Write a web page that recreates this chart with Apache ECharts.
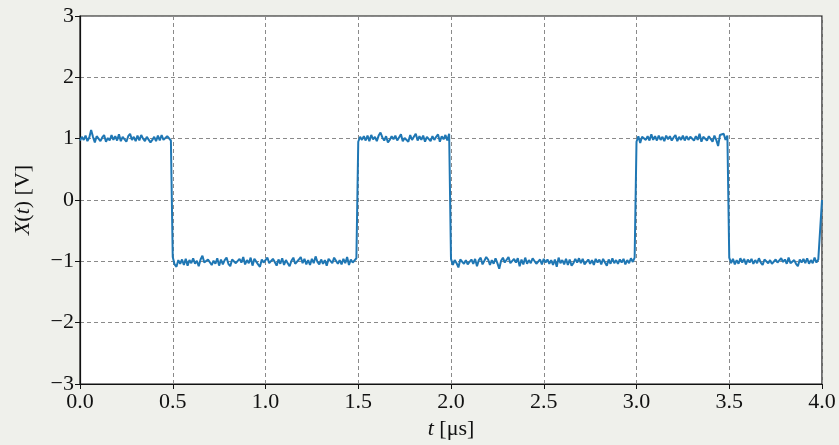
<!DOCTYPE html>
<html>
<head>
<meta charset="utf-8">
<script src="https://cdn.jsdelivr.net/npm/echarts@6/dist/echarts.min.js"></script>
<style>
  html, body { margin: 0; padding: 0; background: #eff0eb; }
  #chart { width: 839px; height: 445px; }
</style>
</head>
<body>
<div id="chart"></div>
<script>
// Each segment = start time, nominal level (V), deviations in hundredths of a volt.
const DT = 0.01;

const high1 = [
  -3, 3,-2, 5,-4, 2,14, 3,-6, 4,
   5,-4, 2, 6,-5, 1,-3, 6,-2, 4,
  -3, 7,-4, 3, 1,-5, 4, 8,-2, 3,
  -4, 5,-3, 6, 0,-4, 3, 5,-6,-2,
   3,-4, 5,-3, 6,-2,-5, 4, 7,-3];
const low1 = [
   7,-5,-9, 2,-4, 3,-6, 4,-7, 2,
  -3, 5,-4, 1,-8, 3, 9,-2,-5, 3,
   4,-6, 1,-4, 5,-7, 3,-5, 2, 6,
  -4,-8, 3, 5,-3,-6, 4,-2, 7,-5,
   2,-3, 6,-7, 4, 1,-5,-9, 3,-2,
  -4, 6,-3,-6, 4,-1,-7, 3,-4, 5,
  -6, 2,-3,-8, 1, 6,-4,-2, 3, 7,
  -3, 4,-5, 2,-6, 4,-3, 8,-1,-5,
   3,-4, 2,-7, 4, 5,-3, 6, 9,-4,
   2,-5, 4,-3, 7,-6, 3,-2,-4, 5];
const high2 = [
  -5, 3,-2, 4,-3, 5,-4, 6,-1, 3,
  -4, 5,10, 2,-3, 4,-6,-2, 4,-1,
   5,-3, 2, 7,-4, 1, 4,-5, 6,-2,
   3, 8,-3, 4,-2, 5,-5, 3, 6,-4,
   4,-2, 3, 7,-5, 4,-1, 6,-3, 8];
const low2 = [
   4,-6, 2,-3,-10, 3, 5,-4, 2,-5,
  -7, 3,-4, 4,-8, 2, 6,-5, 1, 7,
   3,-6, 2,-4, 5,-3,-12, 1, 6,-2,
  -4, 7,-3,-6, 4,-2, 5,-8, 3,-5,
   6,-4, 2,-3, 5, 8,-4,-6, 3,-5,
   4,-2, 3,-4, 2,-6, 3,-9, 6,-3,
   2,-5, 4,-6, 3,-7,-3, 4,-2, 5,
  -3, 4,-5,-8, 3,-4, 2,-6, 4,-2,
   3,-5, 4,-2,-7, 3,-4, 5,-3, 2,
  -4, 3,-2, 4,-5, 2,-3, 5,-1, 6];
const high3 = [
  -5, 4,-7, 3, 6,-2, 4,-3, 7,-2,
   4,-3, 5,-2, 3,-4, 5,-1, 4,-3,
   2, 6,-4, 3,-2, 5,-3, 4,-2, 3,
   6,-3, 4,-2, 8,-5, 3, 6,-3, 4,
   7,-5, 5,-2,-12, 6, 3, 8,-2, 5];
const low3 = [
   6,-3, 4,-5, 2,-4, 5,-2, 4,-5,
   3,-2, 4,-4, 2,-3, 5,-2,-6, 3,
   4,-3, 2,-4,-7, 3,-2,-5, 5,-1,
   3,-4, 6,-3,-5, 2,-4,-8, 3,-2,
   4,-3, 5,-4, 2,-3, 6,-2, 3, 5];

const segStart = [0.0, 0.5, 1.5, 2.0, 3.0, 3.5];
const segLevel = [1, -1, 1, -1, 1, -1];
const segNoise = [high1, low1, high2, low2, high3, low3];
// last sample sits mid-way up the next rising edge
const endPoint = [4.0, 0.0];

const points = [];
segNoise.forEach((arr, s) => {
  arr.forEach((d, i) => {
    points.push([+(segStart[s] + i * DT).toFixed(2), segLevel[s] + d / 100]);
  });
});
points.push(endPoint);

const FONT = "'Liberation Serif', 'DejaVu Serif', serif";
const gridLine = { show: true, lineStyle: { color: "#8a8a8a", type: [4, 3], width: 1 } };
const axisLine = { show: true, onZero: false, lineStyle: { color: "#111", width: 1.2 } };
const axisTick = { show: true, inside: false, length: 5, lineStyle: { color: "#111", width: 1 } };

const chart = echarts.init(document.getElementById("chart"), null, { renderer: "canvas" });
chart.setOption({
  backgroundColor: "#eff0eb",
  animation: false,
  grid: { left: 80, right: 17, top: 16, bottom: 60, show: true, backgroundColor: "#fff", borderColor: "#111", borderWidth: 1.2 },
  xAxis: {
    type: "value", min: 0, max: 4, interval: 0.5,
    axisLine, axisTick, splitLine: gridLine,
    axisLabel: { color: "#111", fontFamily: FONT, fontSize: 22, margin: 7,
      formatter: (v) => v.toFixed(1) },
    name: "{i|t} [μs]", nameLocation: "middle", nameGap: 34,
    nameTextStyle: { color: "#111", fontFamily: FONT, fontSize: 22,
      rich: { i: { fontStyle: "italic", fontFamily: FONT, fontSize: 22, color: "#111" } } },
  },
  yAxis: {
    type: "value", min: -3, max: 3, interval: 1,
    axisLine, axisTick, splitLine: gridLine,
    axisLabel: { color: "#111", fontFamily: FONT, fontSize: 22, margin: 6,
      formatter: (v) => (v < 0 ? "\u2212" + Math.abs(v) : String(v)) },
    name: "{i|X}({i|t}) [V]", nameLocation: "middle", nameGap: 46,
    nameTextStyle: { color: "#111", fontFamily: FONT, fontSize: 22,
      rich: { i: { fontStyle: "italic", fontFamily: FONT, fontSize: 22, color: "#111" } } },
  },
  series: [{
    type: "line", data: points, showSymbol: false,
    lineStyle: { color: "#1f77b4", width: 2 },
    clip: true,
  }],
});
</script>
</body>
</html>
